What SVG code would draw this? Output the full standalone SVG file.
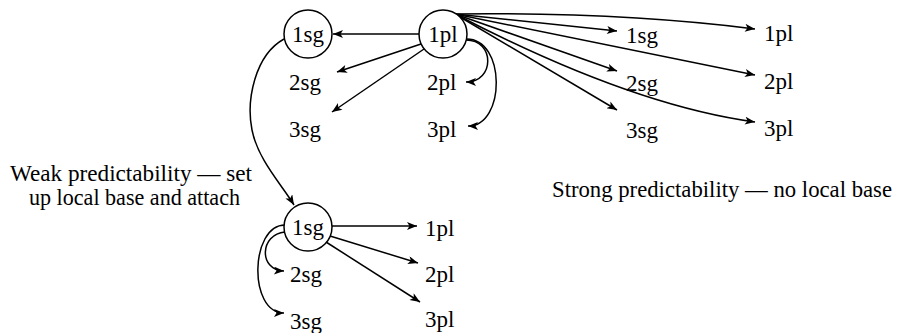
<svg xmlns="http://www.w3.org/2000/svg" width="898" height="333" viewBox="0 0 898 333">
<style>
text{font-family:"Liberation Serif","DejaVu Serif",serif;font-size:23px;fill:#000}
.c{text-anchor:middle}
circle{fill:#fff;stroke:#000;stroke-width:1.5}
#connectors path{fill:none;stroke:#000;stroke-width:1.5;marker-end:url(#ah)}
</style>
<defs>
<marker id="ah" viewBox="0 0 10 8" refX="10" refY="4" markerWidth="11" markerHeight="8" orient="auto" markerUnits="userSpaceOnUse">
<path d="M0,0 L10,4 L0,8 L2.5,4 z" fill="#000"/>
</marker>
</defs>
<g id="connectors">
<path d="M419 34 L333 34"/>
<path d="M421 44 L337 72"/>
<path d="M424 49 L332 112"/>
<path d="M466 40 C495 40 495 82 466 82"/>
<path d="M466 39 C506 38 506 126 468 126"/>
<path d="M455 14 Q620 12 755 29"/>
<path d="M455 14 L617 31"/>
<path d="M455 14 L755 75"/>
<path d="M455 14 L617 71"/>
<path d="M455 14 Q630 105 755 122"/>
<path d="M455 14 L617 110"/>
<path d="M284 39 C255 55 246 100 252 130 C258 160 282 185 294 205"/>
<path d="M332 226 L417 226"/>
<path d="M330 236 L418 263"/>
<path d="M326 242 L420 302"/>
<path d="M285 232 C260 234 258 270 284 271"/>
<path d="M285 225 C250 225 248 313 284 313"/>
</g>
<g id="n-top-1sg"><circle cx="308" cy="34" r="24"/><text class="c" x="308" y="42">1sg</text></g>
<g id="n-top-1pl"><circle cx="443" cy="34" r="24"/><text class="c" x="443" y="42">1pl</text></g>
<g id="n-bot-1sg"><circle cx="308" cy="227" r="24"/><text class="c" x="308" y="235">1sg</text></g>
<g id="n-tl-2sg"><text x="289" y="90">2sg</text></g>
<g id="n-tl-3sg"><text x="289" y="137">3sg</text></g>
<g id="n-tl-2pl"><text x="427" y="90">2pl</text></g>
<g id="n-tl-3pl"><text x="427" y="137">3pl</text></g>
<g id="n-r-1sg"><text x="626" y="43">1sg</text></g>
<g id="n-r-2sg"><text x="626" y="91">2sg</text></g>
<g id="n-r-3sg"><text x="626" y="138">3sg</text></g>
<g id="n-r-1pl"><text x="764" y="41">1pl</text></g>
<g id="n-r-2pl"><text x="764" y="89">2pl</text></g>
<g id="n-r-3pl"><text x="764" y="136">3pl</text></g>
<g id="n-b-1pl"><text x="425" y="236">1pl</text></g>
<g id="n-b-2pl"><text x="425" y="282">2pl</text></g>
<g id="n-b-3pl"><text x="425" y="327">3pl</text></g>
<g id="n-b-2sg"><text x="290" y="282">2sg</text></g>
<g id="n-b-3sg"><text x="290" y="329">3sg</text></g>
<g id="label-weak">
<text x="10" y="181" textLength="242" lengthAdjust="spacingAndGlyphs">Weak predictability — set</text>
<text x="29" y="205" textLength="211" lengthAdjust="spacingAndGlyphs">up local base and attach</text>
</g>
<g id="label-strong"><text x="552" y="197" textLength="340" lengthAdjust="spacingAndGlyphs">Strong predictability — no local base</text></g>
</svg>
